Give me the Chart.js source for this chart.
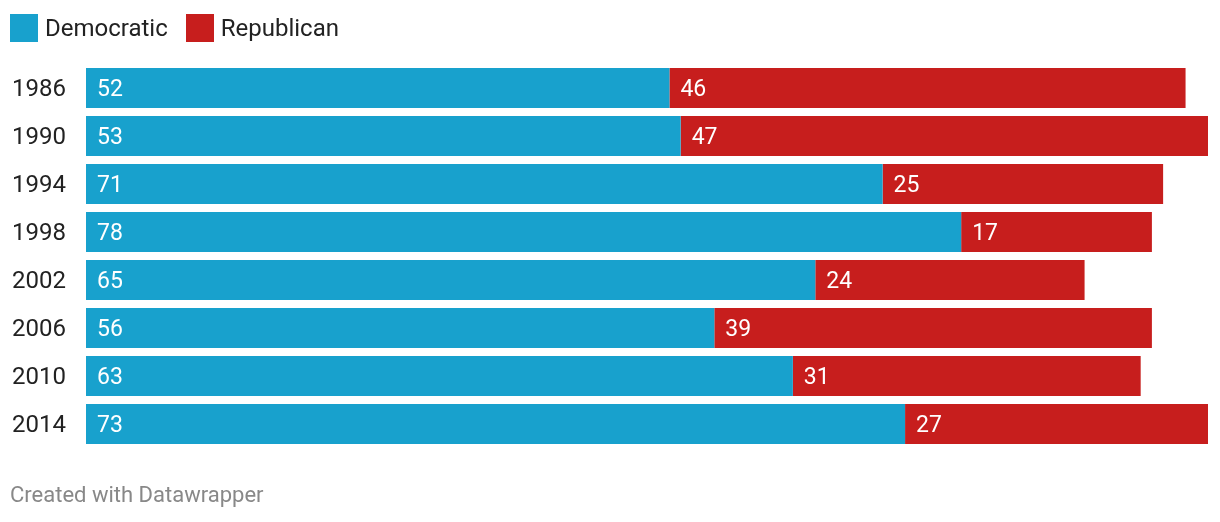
<!DOCTYPE html>
<html>
<head>
<meta charset="utf-8">
<script src="https://cdn.jsdelivr.net/npm/chart.js@4"></script>
<style>
  body { margin: 0; background: #fff; font-family: Roboto, sans-serif; }
  #wrap { position: relative; width: 1220px; height: 522px; }
  #legend { position: absolute; left: 10px; top: 14px; display: flex; font-size: 24px; color: #222; }
  .item { display: flex; align-items: center; margin-right: 18px; height: 28px; line-height: 26px; }
  .swatch { width: 28px; height: 28px; margin-right: 7px; }
  #footer { position: absolute; left: 10px; top: 482px; font-size: 22px; color: #888; }
  canvas { position: absolute; left: 0; top: 0; }
</style>
</head>
<body>
<div id="wrap">
  <canvas id="myChart" width="1220" height="522"></canvas>
  <div id="legend"></div>
  <div id="footer">Created with Datawrapper</div>
</div>
<script>
const years = ['1986', '1990', '1994', '1998', '2002', '2006', '2010', '2014'];
const democratic = [52, 53, 71, 78, 65, 56, 63, 73];
const republican = [46, 47, 25, 17, 24, 39, 31, 27];
const seriesNames = ['Democratic', 'Republican'];
const seriesColors = ['#18a1cd', '#c71e1d'];

// legend
const legend = document.getElementById('legend');
seriesNames.forEach((name, i) => {
  const item = document.createElement('div');
  item.className = 'item';
  item.innerHTML = '<span class="swatch" style="background:' + seriesColors[i] + '"></span>' + name;
  legend.appendChild(item);
});

// values written inside the bars, left aligned
const barLabels = {
  id: 'barLabels',
  afterDatasetsDraw(chart) {
    const ctx = chart.ctx;
    ctx.save();
    ctx.font = '23px Roboto';
    ctx.fillStyle = '#fff';
    ctx.textAlign = 'left';
    ctx.textBaseline = 'middle';
    chart.data.datasets.forEach((ds, i) => {
      chart.getDatasetMeta(i).data.forEach((bar, j) => {
        ctx.fillText(ds.data[j], bar.base + 11, bar.y + 2);
      });
    });
    ctx.restore();
  }
};

new Chart(document.getElementById('myChart'), {
  type: 'bar',
  data: {
    labels: years,
    datasets: [
      { label: seriesNames[0], data: democratic, backgroundColor: seriesColors[0] },
      { label: seriesNames[1], data: republican, backgroundColor: seriesColors[1] }
    ]
  },
  options: {
    indexAxis: 'y',
    responsive: false,
    animation: false,
    layout: { padding: { left: 12, right: 12, top: 64, bottom: 74 } },
    plugins: { legend: { display: false }, tooltip: { enabled: false } },
    datasets: { bar: { categoryPercentage: 1, barPercentage: 40 / 48, borderWidth: 0 } },
    scales: {
      x: { stacked: true, min: 0, max: 100, display: false },
      y: {
        stacked: true,
        grid: { display: false },
        border: { display: false },
        afterFit(scale) { scale.width = 74; },
        ticks: { crossAlign: 'far', labelOffset: 2, color: '#222', font: { family: 'Roboto', size: 24 } }
      }
    }
  },
  plugins: [barLabels]
});
</script>
</body>
</html>
